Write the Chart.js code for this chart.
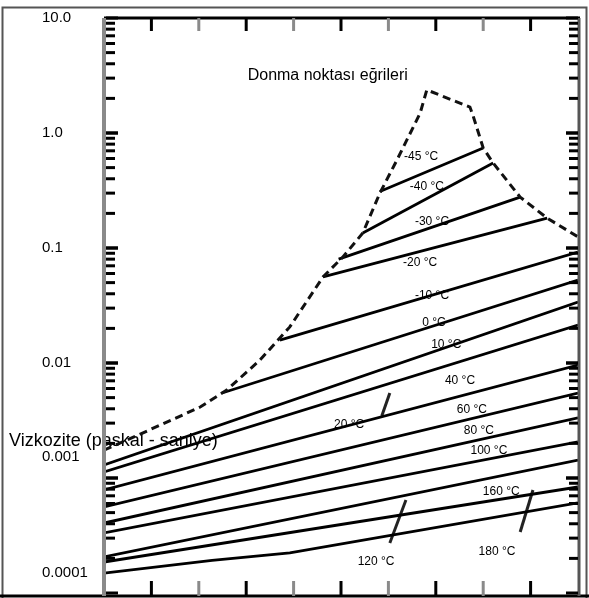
<!DOCTYPE html>
<html>
<head>
<meta charset="utf-8">
<script src="https://cdn.jsdelivr.net/npm/chart.js@4.4.1/dist/chart.umd.min.js"></script>
<style>
html, body { margin: 0; padding: 0; background: #fff; }
</style>
</head>
<body>
<canvas id="chart" width="589" height="598"></canvas>
<script>
// x = glycol share (%), y = viscosity (Pa.s)
var tempLabels = ['-45 °C', '-40 °C', '-30 °C', '-20 °C', '-10 °C', '0 °C', '10 °C', '20 °C',
    '40 °C', '60 °C', '80 °C', '100 °C', '120 °C', '160 °C', '180 °C'];
var linePct = [
    [58.2, 80.0], [54.6, 82.1], [49.5, 87.8], [46.2, 93.5], [37.1, 100], [24.9, 100],
    [0, 100], [0, 100], [0, 100], [0, 100], [0, 100], [0, 100], [0, 100], [0, 100],
    [0, 22.8, 39.2, 100]
];
var lineVisc = [
    [0.31, 0.741], [0.135, 0.548], [0.08, 0.277], [0.056, 0.182], [0.0158, 0.0923],
    [0.00548, 0.0527], [0.0013, 0.0339], [0.00113, 0.0214], [0.000787, 0.00961],
    [0.00056, 0.00548], [0.000406, 0.00333], [0.000333, 0.00206], [0.000206, 0.00143],
    [0.000186, 0.000835], [0.000149, 0.000192, 0.000223, 0.000607]
];

// freezing point curve (dashed)
var freezePct = [0, 8.6, 20.3, 25.9, 32.9, 39.2, 46.2, 50.4, 54.6, 58.2, 61.8, 66.7, 68.1,
    77.2, 77.8, 80.0, 82.1, 87.8, 93.5, 100];
var freezeVisc = [0.00175, 0.00251, 0.00414, 0.00582, 0.0106, 0.0206, 0.056, 0.0836, 0.135,
    0.30, 0.582, 1.49, 2.37, 1.68, 1.44, 0.741, 0.548, 0.277, 0.182, 0.125];

// where each temperature text sits
var labelPct = [66.9, 68.1, 69.2, 66.7, 69.2, 69.6, 72.2, 51.7, 75.1, 77.6, 79.1, 81.2, 57.4, 83.8, 82.9];
var labelVisc = [0.618, 0.339, 0.168, 0.0741, 0.0383, 0.0223, 0.01435, 0.00289, 0.00697,
    0.0039, 0.00256, 0.00172, 0.000186, 0.000755, 0.000228];

// small pointer lines for 20, 120 and 180 °C
var arrowPct = [[58.6, 60.3], [60.3, 63.7], [87.8, 90.5]];
var arrowVisc = [[0.00346, 0.00548], [0.000272, 0.000644], [0.000339, 0.000787]];

// y tick labels (the scan prints the two lowest a bit above their decades)
var tickValues = [0.000149, 0.00152, 0.01, 0.1, 1, 10];
var tickLabels = ['0.0001', '0.001', '0.01', '0.1', '1.0', '10.0'];

var yTitle = 'Vizkozite (paskal - saniye)';
var curveTitle = 'Donma noktası eğrileri';
var curveTitlePct = 47.2;
var curveTitleVisc = 3.13;

var FONT = '"Liberation Sans", Arial, sans-serif';

function toPoints(xs, ys) {
    var pts = [];
    for (let i = 0; i < xs.length; i++) {
        pts.push({ x: xs[i], y: ys[i] });
    }
    return pts;
}

var datasets = [];
datasets.push({
    data: toPoints(freezePct, freezeVisc),
    showLine: true,
    borderColor: '#111',
    borderWidth: 3,
    borderDash: [8, 5],
    pointRadius: 0,
});
for (let i = 0; i < tempLabels.length; i++) {
    datasets.push({
        label: tempLabels[i],
        data: toPoints(linePct[i], lineVisc[i]),
        showLine: true,
        borderColor: '#000',
        borderWidth: 2.8,
        pointRadius: 0,
    });
}
for (let i = 0; i < arrowPct.length; i++) {
    datasets.push({
        data: toPoints(arrowPct[i], arrowVisc[i]),
        showLine: true,
        borderColor: '#222',
        borderWidth: 3,
        pointRadius: 0,
    });
}

var framePlugin = {
    id: 'frame',
    beforeDatasetsDraw(chart) {
        const ctx = chart.ctx;
        ctx.save();
        ctx.fillStyle = '#000';
        ctx.font = '18px ' + FONT;
        ctx.textAlign = 'left';
        ctx.textBaseline = 'middle';
        ctx.fillText(yTitle, 9, 441);
        ctx.restore();
    },
    afterDatasetsDraw(chart) {
        const ctx = chart.ctx;
        const a = chart.chartArea;
        const xs = chart.scales.x;
        const ys = chart.scales.y;
        const bottom = a.bottom + 3;
        ctx.save();

        // outer frame
        ctx.strokeStyle = '#555';
        ctx.lineWidth = 2;
        ctx.strokeRect(2.5, 7.5, 584, 592);

        // plot borders
        ctx.lineWidth = 3;
        ctx.strokeStyle = '#000';
        ctx.beginPath(); ctx.moveTo(a.left, a.top); ctx.lineTo(a.right + 2, a.top); ctx.stroke();
        ctx.beginPath(); ctx.moveTo(0, bottom); ctx.lineTo(589, bottom); ctx.stroke();
        ctx.strokeStyle = '#8a8a8a';
        ctx.lineWidth = 4;
        ctx.beginPath(); ctx.moveTo(a.left, a.top); ctx.lineTo(a.left, bottom); ctx.stroke();
        ctx.strokeStyle = '#555';
        ctx.lineWidth = 3;
        ctx.beginPath(); ctx.moveTo(a.right + 1, a.top); ctx.lineTo(a.right + 1, bottom); ctx.stroke();

        // log ticks, pointing inward on both sides
        ctx.strokeStyle = '#000';
        ctx.lineWidth = 3;
        for (let k = -4; k <= 0; k++) {
            for (let m = 1; m <= 10; m++) {
                const v = m * Math.pow(10, k);
                const py = ys.getPixelForValue(v);
                const len = (m === 1 || m === 10) ? 12 : 9;
                ctx.beginPath(); ctx.moveTo(a.left + 2, py); ctx.lineTo(a.left + 2 + len, py); ctx.stroke();
                ctx.beginPath(); ctx.moveTo(a.right, py); ctx.lineTo(a.right - len, py); ctx.stroke();
            }
        }

        // x ticks every 10 %
        for (let p = 10; p < 100; p += 10) {
            const px = xs.getPixelForValue(p);
            ctx.strokeStyle = (p / 10) % 2 === 1 ? '#000' : '#8a8a8a';
            ctx.lineWidth = 3;
            ctx.beginPath(); ctx.moveTo(px, a.top); ctx.lineTo(px, a.top + 13); ctx.stroke();
            ctx.beginPath(); ctx.moveTo(px, bottom); ctx.lineTo(px, bottom - 15); ctx.stroke();
        }

        // texts
        ctx.fillStyle = '#000';
        ctx.textAlign = 'center';
        ctx.textBaseline = 'middle';
        ctx.font = '12px ' + FONT;
        for (let i = 0; i < tempLabels.length; i++) {
            ctx.fillText(tempLabels[i], xs.getPixelForValue(labelPct[i]), ys.getPixelForValue(labelVisc[i]));
        }
        ctx.font = '16px ' + FONT;
        ctx.fillText(curveTitle, xs.getPixelForValue(curveTitlePct), ys.getPixelForValue(curveTitleVisc));
        ctx.restore();
    }
};

const ctx = document.getElementById('chart').getContext('2d');
const myChart = new Chart(ctx, {
    type: 'scatter',
    data: { datasets: datasets },
    options: {
        responsive: false,
        animation: false,
        devicePixelRatio: 1,
        layout: { padding: { left: 42, top: 18, right: 11, bottom: 5 } },
        plugins: {
            legend: { display: false },
            tooltip: { enabled: false },
        },
        scales: {
            x: { type: 'linear', min: 0, max: 100, display: false },
            y: {
                type: 'logarithmic',
                min: 0.0001,
                max: 10,
                grid: { display: false },
                border: { display: false },
                afterBuildTicks: function(s) {
                    s.ticks = tickValues.map(function(v) { return { value: v }; });
                },
                afterFit: function(s) {
                    s.width = 62;
                    s.paddingTop = 0;
                    s.paddingBottom = 0;
                },
                ticks: {
                    crossAlign: 'far',
                    color: '#000',
                    font: { family: FONT, size: 15 },
                    callback: function(value, index) { return tickLabels[index]; },
                },
            },
        },
    },
    plugins: [framePlugin],
});
</script>
</body>
</html>
